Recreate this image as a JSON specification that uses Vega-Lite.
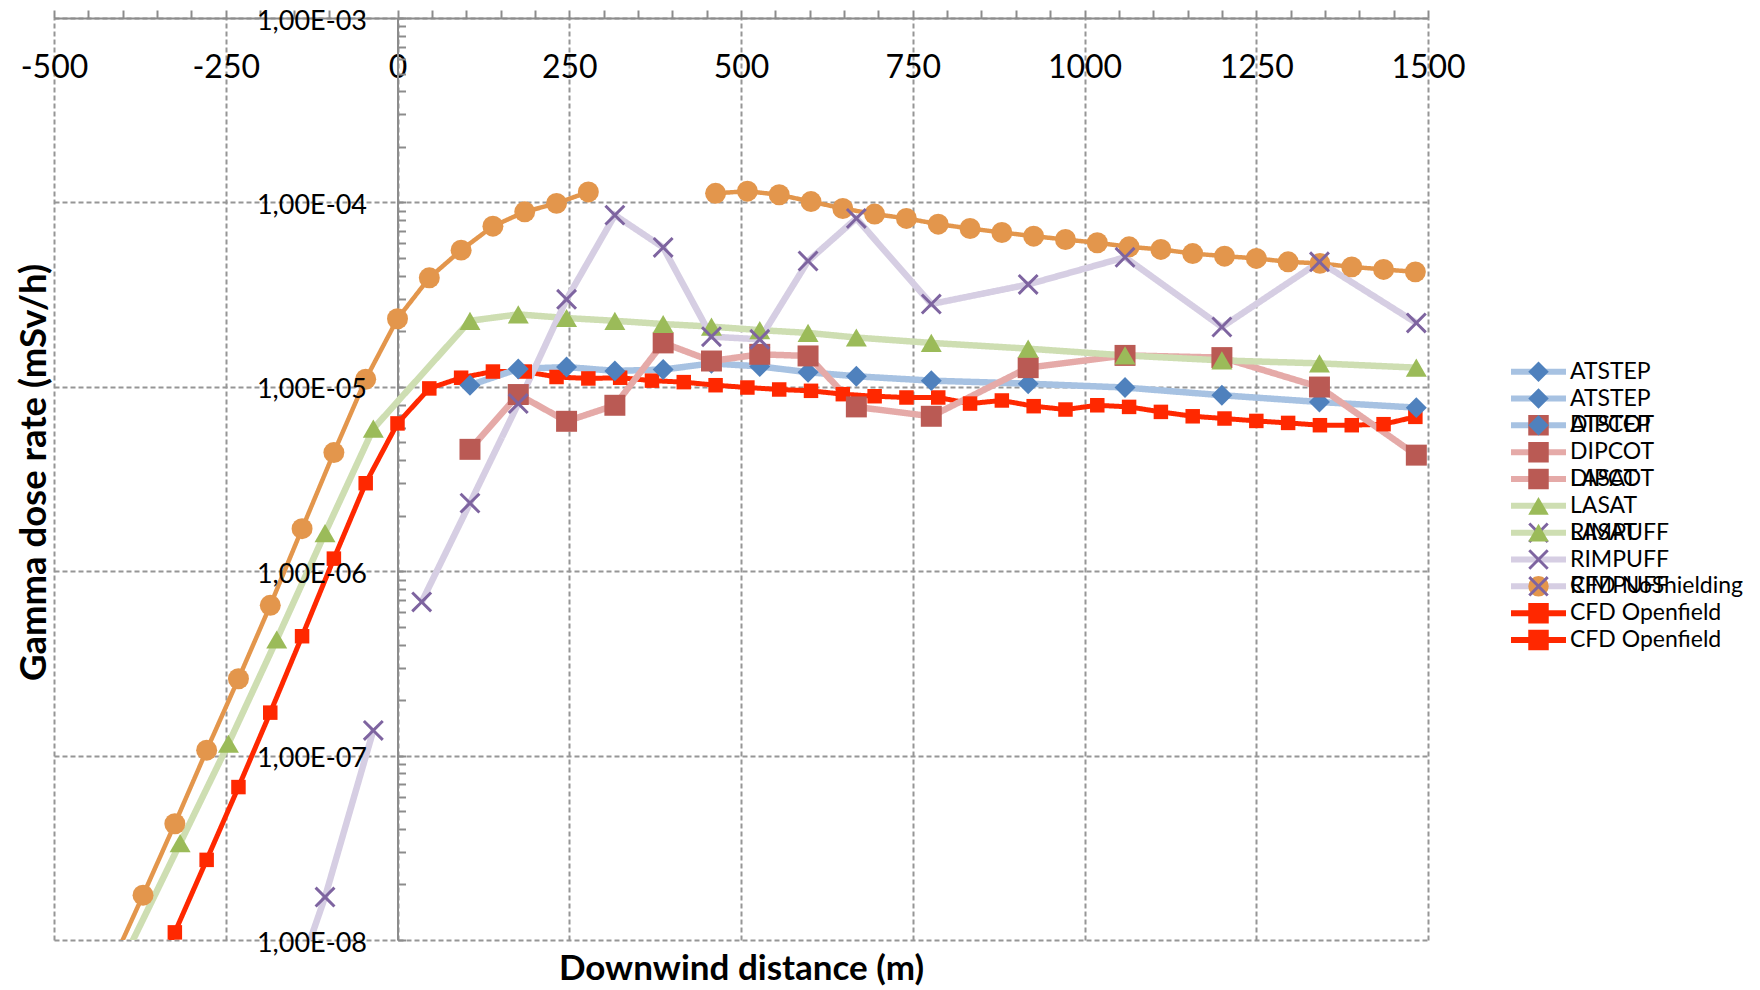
{
  "$schema": "https://vega.github.io/schema/vega-lite/v6.json",
  "width": 1374,
  "height": 922,
  "autosize": {"type": "none"},
  "padding": {"left": 54, "top": 18, "right": 332, "bottom": 50},
  "background": "white",
  "config": {"view": {"stroke": null}, "font": "Lato"},
  "resolve": {"axis": {"y": "independent"}},
  "data": {"values": [
    {"model": "CFD Openfield", "distance": -370.4, "dose": 4.5e-9},
    {"model": "CFD Openfield", "distance": -324.1, "dose": 1.10e-8},
    {"model": "CFD Openfield", "distance": -277.8, "dose": 2.72e-8},
    {"model": "CFD Openfield", "distance": -231.5, "dose": 6.75e-8},
    {"model": "CFD Openfield", "distance": -185.2, "dose": 1.71e-7},
    {"model": "CFD Openfield", "distance": -138.9, "dose": 4.44e-7},
    {"model": "CFD Openfield", "distance": -92.6, "dose": 1.17e-6},
    {"model": "CFD Openfield", "distance": -46.3, "dose": 3.00e-6},
    {"model": "CFD Openfield", "distance": 0, "dose": 6.33e-6},
    {"model": "CFD Openfield", "distance": 46.3, "dose": 9.80e-6},
    {"model": "CFD Openfield", "distance": 92.6, "dose": 1.12e-5},
    {"model": "CFD Openfield", "distance": 138.9, "dose": 1.21e-5},
    {"model": "CFD Openfield", "distance": 185.2, "dose": 1.21e-5},
    {"model": "CFD Openfield", "distance": 231.5, "dose": 1.13e-5},
    {"model": "CFD Openfield", "distance": 277.8, "dose": 1.11e-5},
    {"model": "CFD Openfield", "distance": 324.1, "dose": 1.12e-5},
    {"model": "CFD Openfield", "distance": 370.4, "dose": 1.08e-5},
    {"model": "CFD Openfield", "distance": 416.7, "dose": 1.06e-5},
    {"model": "CFD Openfield", "distance": 463, "dose": 1.02e-5},
    {"model": "CFD Openfield", "distance": 509.3, "dose": 9.91e-6},
    {"model": "CFD Openfield", "distance": 555.6, "dose": 9.67e-6},
    {"model": "CFD Openfield", "distance": 601.9, "dose": 9.51e-6},
    {"model": "CFD Openfield", "distance": 648.2, "dose": 9.12e-6},
    {"model": "CFD Openfield", "distance": 694.5, "dose": 8.89e-6},
    {"model": "CFD Openfield", "distance": 740.8, "dose": 8.75e-6},
    {"model": "CFD Openfield", "distance": 787.1, "dose": 8.75e-6},
    {"model": "CFD Openfield", "distance": 833.4, "dose": 8.11e-6},
    {"model": "CFD Openfield", "distance": 879.7, "dose": 8.43e-6},
    {"model": "CFD Openfield", "distance": 926, "dose": 7.85e-6},
    {"model": "CFD Openfield", "distance": 972.3, "dose": 7.53e-6},
    {"model": "CFD Openfield", "distance": 1018.6, "dose": 7.94e-6},
    {"model": "CFD Openfield", "distance": 1064.9, "dose": 7.78e-6},
    {"model": "CFD Openfield", "distance": 1111.2, "dose": 7.31e-6},
    {"model": "CFD Openfield", "distance": 1157.5, "dose": 6.92e-6},
    {"model": "CFD Openfield", "distance": 1203.8, "dose": 6.73e-6},
    {"model": "CFD Openfield", "distance": 1250.1, "dose": 6.53e-6},
    {"model": "CFD Openfield", "distance": 1296.4, "dose": 6.37e-6},
    {"model": "CFD Openfield", "distance": 1342.7, "dose": 6.19e-6},
    {"model": "CFD Openfield", "distance": 1389, "dose": 6.19e-6},
    {"model": "CFD Openfield", "distance": 1435.3, "dose": 6.27e-6},
    {"model": "CFD Openfield", "distance": 1481.6, "dose": 6.87e-6},

    {"model": "CFD NoShielding", "distance": -416.7, "dose": 7.3e-9},
    {"model": "CFD NoShielding", "distance": -370.4, "dose": 1.75e-8},
    {"model": "CFD NoShielding", "distance": -324.1, "dose": 4.27e-8},
    {"model": "CFD NoShielding", "distance": -277.8, "dose": 1.07e-7},
    {"model": "CFD NoShielding", "distance": -231.5, "dose": 2.61e-7},
    {"model": "CFD NoShielding", "distance": -185.2, "dose": 6.53e-7},
    {"model": "CFD NoShielding", "distance": -138.9, "dose": 1.70e-6},
    {"model": "CFD NoShielding", "distance": -92.6, "dose": 4.40e-6},
    {"model": "CFD NoShielding", "distance": -46.3, "dose": 1.10e-5},
    {"model": "CFD NoShielding", "distance": 0, "dose": 2.34e-5},
    {"model": "CFD NoShielding", "distance": 46.3, "dose": 3.90e-5},
    {"model": "CFD NoShielding", "distance": 92.6, "dose": 5.51e-5},
    {"model": "CFD NoShielding", "distance": 138.9, "dose": 7.43e-5},
    {"model": "CFD NoShielding", "distance": 185.2, "dose": 8.89e-5},
    {"model": "CFD NoShielding", "distance": 231.5, "dose": 9.88e-5},
    {"model": "CFD NoShielding", "distance": 277.8, "dose": 1.14e-4},
    {"model": "CFD NoShielding", "distance": 370.4, "dose": null},
    {"model": "CFD NoShielding", "distance": 463, "dose": 1.12e-4},
    {"model": "CFD NoShielding", "distance": 509.3, "dose": 1.15e-4},
    {"model": "CFD NoShielding", "distance": 555.6, "dose": 1.10e-4},
    {"model": "CFD NoShielding", "distance": 601.9, "dose": 1.01e-4},
    {"model": "CFD NoShielding", "distance": 648.2, "dose": 9.27e-5},
    {"model": "CFD NoShielding", "distance": 694.5, "dose": 8.64e-5},
    {"model": "CFD NoShielding", "distance": 740.8, "dose": 8.19e-5},
    {"model": "CFD NoShielding", "distance": 787.1, "dose": 7.62e-5},
    {"model": "CFD NoShielding", "distance": 833.4, "dose": 7.22e-5},
    {"model": "CFD NoShielding", "distance": 879.7, "dose": 6.87e-5},
    {"model": "CFD NoShielding", "distance": 926, "dose": 6.56e-5},
    {"model": "CFD NoShielding", "distance": 972.3, "dose": 6.29e-5},
    {"model": "CFD NoShielding", "distance": 1018.6, "dose": 6.04e-5},
    {"model": "CFD NoShielding", "distance": 1064.9, "dose": 5.74e-5},
    {"model": "CFD NoShielding", "distance": 1111.2, "dose": 5.56e-5},
    {"model": "CFD NoShielding", "distance": 1157.5, "dose": 5.28e-5},
    {"model": "CFD NoShielding", "distance": 1203.8, "dose": 5.11e-5},
    {"model": "CFD NoShielding", "distance": 1250.1, "dose": 4.97e-5},
    {"model": "CFD NoShielding", "distance": 1296.4, "dose": 4.76e-5},
    {"model": "CFD NoShielding", "distance": 1342.7, "dose": 4.67e-5},
    {"model": "CFD NoShielding", "distance": 1389, "dose": 4.47e-5},
    {"model": "CFD NoShielding", "distance": 1435.3, "dose": 4.33e-5},
    {"model": "CFD NoShielding", "distance": 1481.6, "dose": 4.20e-5},

    {"model": "ATSTEP", "distance": 105.5, "dose": 1.02e-5},
    {"model": "ATSTEP", "distance": 175.8, "dose": 1.25e-5},
    {"model": "ATSTEP", "distance": 246.1, "dose": 1.28e-5},
    {"model": "ATSTEP", "distance": 316.4, "dose": 1.22e-5},
    {"model": "ATSTEP", "distance": 386.7, "dose": 1.24e-5},
    {"model": "ATSTEP", "distance": 457, "dose": 1.34e-5},
    {"model": "ATSTEP", "distance": 527.3, "dose": 1.29e-5},
    {"model": "ATSTEP", "distance": 597.6, "dose": 1.20e-5},
    {"model": "ATSTEP", "distance": 667.9, "dose": 1.14e-5},
    {"model": "ATSTEP", "distance": 777, "dose": 1.08e-5},
    {"model": "ATSTEP", "distance": 918, "dose": 1.04e-5},
    {"model": "ATSTEP", "distance": 1059, "dose": 9.91e-6},
    {"model": "ATSTEP", "distance": 1200, "dose": 9.0e-6},
    {"model": "ATSTEP", "distance": 1342, "dose": 8.27e-6},
    {"model": "ATSTEP", "distance": 1483, "dose": 7.71e-6},

    {"model": "DIPCOT", "distance": 105.5, "dose": 4.58e-6},
    {"model": "DIPCOT", "distance": 175.8, "dose": 9.08e-6},
    {"model": "DIPCOT", "distance": 246.1, "dose": 6.50e-6},
    {"model": "DIPCOT", "distance": 316.4, "dose": 7.94e-6},
    {"model": "DIPCOT", "distance": 386.7, "dose": 1.73e-5},
    {"model": "DIPCOT", "distance": 457, "dose": 1.38e-5},
    {"model": "DIPCOT", "distance": 527.3, "dose": 1.50e-5},
    {"model": "DIPCOT", "distance": 597.6, "dose": 1.47e-5},
    {"model": "DIPCOT", "distance": 667.9, "dose": 7.78e-6},
    {"model": "DIPCOT", "distance": 777, "dose": 6.92e-6},
    {"model": "DIPCOT", "distance": 918, "dose": 1.27e-5},
    {"model": "DIPCOT", "distance": 1059, "dose": 1.48e-5},
    {"model": "DIPCOT", "distance": 1200, "dose": 1.44e-5},
    {"model": "DIPCOT", "distance": 1342, "dose": 9.97e-6},
    {"model": "DIPCOT", "distance": 1483, "dose": 4.26e-6},

    {"model": "LASAT", "distance": -386.7, "dose": 9.7e-9},
    {"model": "LASAT", "distance": -316.4, "dose": 3.35e-8},
    {"model": "LASAT", "distance": -246.1, "dose": 1.16e-7},
    {"model": "LASAT", "distance": -175.8, "dose": 4.26e-7},
    {"model": "LASAT", "distance": -105.5, "dose": 1.61e-6},
    {"model": "LASAT", "distance": -35.2, "dose": 5.93e-6},
    {"model": "LASAT", "distance": 105.5, "dose": 2.28e-5},
    {"model": "LASAT", "distance": 175.8, "dose": 2.47e-5},
    {"model": "LASAT", "distance": 246.1, "dose": 2.36e-5},
    {"model": "LASAT", "distance": 316.4, "dose": 2.28e-5},
    {"model": "LASAT", "distance": 386.7, "dose": 2.19e-5},
    {"model": "LASAT", "distance": 457, "dose": 2.12e-5},
    {"model": "LASAT", "distance": 527.3, "dose": 2.03e-5},
    {"model": "LASAT", "distance": 597.6, "dose": 1.96e-5},
    {"model": "LASAT", "distance": 667.9, "dose": 1.85e-5},
    {"model": "LASAT", "distance": 777, "dose": 1.73e-5},
    {"model": "LASAT", "distance": 918, "dose": 1.61e-5},
    {"model": "LASAT", "distance": 1059, "dose": 1.48e-5},
    {"model": "LASAT", "distance": 1200, "dose": 1.39e-5},
    {"model": "LASAT", "distance": 1342, "dose": 1.34e-5},
    {"model": "LASAT", "distance": 1483, "dose": 1.27e-5},

    {"model": "RIMPUFF", "distance": -175.8, "dose": 3.0e-9},
    {"model": "RIMPUFF", "distance": -105.5, "dose": 1.71e-8},
    {"model": "RIMPUFF", "distance": -35.2, "dose": 1.37e-7},
    {"model": "RIMPUFF", "distance": 0, "dose": null},
    {"model": "RIMPUFF", "distance": 35.2, "dose": 6.81e-7},
    {"model": "RIMPUFF", "distance": 105.5, "dose": 2.34e-6},
    {"model": "RIMPUFF", "distance": 175.8, "dose": 8.11e-6},
    {"model": "RIMPUFF", "distance": 246.1, "dose": 2.98e-5},
    {"model": "RIMPUFF", "distance": 316.4, "dose": 8.53e-5},
    {"model": "RIMPUFF", "distance": 386.7, "dose": 5.70e-5},
    {"model": "RIMPUFF", "distance": 457, "dose": 1.87e-5},
    {"model": "RIMPUFF", "distance": 527.3, "dose": 1.81e-5},
    {"model": "RIMPUFF", "distance": 597.6, "dose": 4.81e-5},
    {"model": "RIMPUFF", "distance": 667.9, "dose": 8.19e-5},
    {"model": "RIMPUFF", "distance": 777, "dose": 2.81e-5},
    {"model": "RIMPUFF", "distance": 918, "dose": 3.59e-5},
    {"model": "RIMPUFF", "distance": 1059, "dose": 5.04e-5},
    {"model": "RIMPUFF", "distance": 1200, "dose": 2.11e-5},
    {"model": "RIMPUFF", "distance": 1342, "dose": 4.76e-5},
    {"model": "RIMPUFF", "distance": 1483, "dose": 2.22e-5}
  ]},
  "layer": [
    {
      "mark": {"type": "line", "clip": true, "invalid": "break-paths-filter-domains"},
      "encoding": {
        "x": {
          "field": "distance", "type": "quantitative",
          "scale": {"domain": [-500, 1500], "nice": false, "zero": false},
          "axis": {
            "orient": "top",
            "tickCount": 200,
            "values": [-500,-450,-400,-350,-300,-250,-200,-150,-100,-50,0,50,100,150,200,250,300,350,400,450,500,550,600,650,700,750,800,850,900,950,1000,1050,1100,1150,1200,1250,1300,1350,1400,1450,1500],
            "labelExpr": "datum.value % 250 === 0 ? toString(datum.value) : ''",
            "labelFont": "Lato", "labelFontSize": 32, "labelColor": "#000000",
            "labelBaseline": "middle", "labelAlign": "center", "labelPadding": -57,
            "labelFlush": false, "labelOverlap": false,
            "tickSize": 8, "tickWidth": 2, "tickColor": "#8C8C8C",
            "domainColor": "#8C8C8C", "domainWidth": 2,
            "grid": true, "gridColor": "#969696", "gridWidth": 2, "gridDash": [5, 3],
            "gridOpacity": {"condition": {"test": "datum.value % 250 === 0", "value": 1}, "value": 0},
            "title": "Downwind distance (m)",
            "titleFont": "Lato", "titleFontWeight": "bold", "titleFontSize": 35, "titleColor": "#000000",
            "titleX": 687, "titleY": 950, "titleAlign": "center", "titleBaseline": "middle", "titleAngle": 0
          }
        },
        "y": {
          "field": "dose", "type": "quantitative",
          "scale": {"type": "log", "domain": [1e-8, 1e-3], "nice": false},
          "axis": {
            "orient": "left", "offset": -343.5,
            "tickCount": 200,
            "values": [1e-8,2e-8,3e-8,4e-8,5e-8,6e-8,7e-8,8e-8,9e-8,1e-7,2e-7,3e-7,4e-7,5e-7,6e-7,7e-7,8e-7,9e-7,1e-6,2e-6,3e-6,4e-6,5e-6,6e-6,7e-6,8e-6,9e-6,1e-5,2e-5,3e-5,4e-5,5e-5,6e-5,7e-5,8e-5,9e-5,1e-4,2e-4,3e-4,4e-4,5e-4,6e-4,7e-4,8e-4,9e-4,1e-3],
            "labels": false,
            "tickSize": -8, "tickWidth": 2, "tickColor": "#8C8C8C",
            "domainColor": "#8C8C8C", "domainWidth": 2,
            "grid": true, "gridColor": "#969696", "gridWidth": 2, "gridDash": [5, 3],
            "gridOpacity": {"condition": {"test": "abs(log(datum.value)/LN10 - round(log(datum.value)/LN10)) < 0.001", "value": 1}, "value": 0},
            "title": "Gamma dose rate (mSv/h)",
            "titleFont": "Lato", "titleFontWeight": "bold", "titleFontSize": 36.5, "titleColor": "#000000",
            "titleX": -363.5, "titleY": 454, "titleAlign": "center", "titleBaseline": "middle", "titleAngle": -90
          }
        },
        "stroke": {
          "field": "model", "type": "nominal",
          "scale": {
            "domain": ["ATSTEP","ATSTEP ","ATSTEP  ","DIPCOT","DIPCOT ","LASAT","LASAT ","RIMPUFF","RIMPUFF ","CFD Openfield","CFD Openfield ","CFD NoShielding"],
            "range": ["#A7C2E2","#A7C2E2","#A7C2E2","#E5AAA8","#E5AAA8","#CEDEB2","#CEDEB2","#D6CEE3","#D6CEE3","#FF2800","#FF2800","#E3964C"]
          },
          "legend": {
            "orient": "none", "legendX": 1454, "legendY": 341.7, "direction": "vertical",
            "values": ["ATSTEP","ATSTEP ","ATSTEP  ","DIPCOT","DIPCOT ","LASAT","LASAT ","RIMPUFF","RIMPUFF ","CFD Openfield","CFD Openfield "],
            "title": null, "padding": 0,
            "symbolType": "stroke", "symbolSize": 3025, "symbolStrokeWidth": 6,
            "labelFont": "Lato", "labelFontSize": 23, "labelColor": "#000000", "labelOffset": 1, "labelLimit": 400,
            "labelExpr": "trim(datum.label)",
            "clipHeight": 24, "rowPadding": 2.83, "zindex": 0
          }
        },
        "strokeDash": {
          "field": "model", "type": "nominal",
          "scale": {
            "domain": ["ATSTEP","DIPCOT","LASAT","RIMPUFF","CFD NoShielding","CFD Openfield","c01","c02","c03","c04","c05","c06","c07","c08","c09","c10","c11"],
            "range": [[1,0],[1,0],[1,0],[1,0],[1,0],[1,0],[1,0],[1,0],[1,0],[1,0],[1,0],[1,0],[1,0],[1,0],[1,0],[1,0],[1,0]]
          },
          "legend": {
            "orient": "none", "legendX": 1473, "legendY": 341.7, "direction": "vertical",
            "values": ["c01","c02","c03","c04","c05","c06","c07","c08","c09","c10","c11"],
            "title": null, "padding": 0,
            "symbolType": "circle", "symbolSize": 420, "symbolStrokeWidth": 0,
            "labelFont": "Lato", "labelFontSize": 23, "labelOffset": 20,
            "labelExpr": "''",
            "clipHeight": 24, "rowPadding": 2.83, "zindex": 1,
            "encode": {"symbols": {"update": {
              "shape": {"signal": "datum.index == 2 ? 'square' : datum.index == 6 ? 'M0,-0.2L0.8,-1L1,-0.8L0.2,0L1,0.8L0.8,1L0,0.2L-0.8,1L-1,0.8L-0.2,0L-1,-0.8L-0.8,-1Z' : 'circle'"},
              "fill": {"signal": "datum.index == 2 ? '#BA5A54' : datum.index == 6 ? '#7E64A0' : '#E3964C'"},
              "stroke": {"value": "transparent"},
              "strokeWidth": {"value": 0},
              "opacity": {"signal": "(datum.index == 2 || datum.index == 6 || datum.index == 8) ? 1 : 0"}
            }}}
          }
        },
        "strokeWidth": {
          "condition": [
            {"test": "datum.model === 'CFD Openfield'", "value": 5},
            {"test": "datum.model === 'CFD NoShielding'", "value": 4.5}
          ],
          "value": 6.5
        }
      }
    },
    {
      "transform": [{"filter": "datum.dose != null && datum.dose >= 1e-8"}],
      "mark": {"type": "point", "filled": true, "opacity": 1, "strokeWidth": 0},
      "encoding": {
        "x": {"field": "distance", "type": "quantitative"},
        "y": {
          "field": "dose", "type": "quantitative",
          "axis": {
            "orient": "left", "offset": -343.5, "zindex": 2,
            "tickCount": 200,
            "values": [1e-8,1e-7,1e-6,1e-5,1e-4,1e-3],
            "labelExpr": "'1,00E-0' + toString(-round(log(datum.value)/LN10))",
            "labelFont": "Lato", "labelFontSize": 27, "labelColor": "#000000",
            "labelAlign": "right", "labelBaseline": "middle", "labelPadding": 39, "labelOffset": 3,
            "labelFlush": false, "labelOverlap": false,
            "ticks": true, "tickSize": -8, "tickOpacity": 0,
            "domain": false, "grid": false, "title": null
          }
        },
        "shape": {
          "field": "model", "type": "nominal",
          "scale": {
            "domain": ["ATSTEP","b2","b3","DIPCOT","b5","LASAT","b7","RIMPUFF","b9","CFD Openfield","b11","CFD NoShielding"],
            "range": ["diamond","diamond","diamond","square","square","triangle-up","triangle-up","M0,-0.2L0.8,-1L1,-0.8L0.2,0L1,0.8L0.8,1L0,0.2L-0.8,1L-1,0.8L-0.2,0L-1,-0.8L-0.8,-1Z","M0,-0.2L0.8,-1L1,-0.8L0.2,0L1,0.8L0.8,1L0,0.2L-0.8,1L-1,0.8L-0.2,0L-1,-0.8L-0.8,-1Z","square","square","circle"]
          },
          "legend": {
            "orient": "none", "legendX": 1473, "legendY": 341.7, "direction": "vertical",
            "values": ["ATSTEP","b2","b3","DIPCOT","b5","LASAT","b7","RIMPUFF","b9","CFD Openfield","b11"],
            "title": null, "padding": 0,
            "symbolSize": 420, "symbolStrokeWidth": 0, "symbolOpacity": 1,
            "labelFont": "Lato", "labelFontSize": 23, "labelColor": "#000000", "labelOffset": 20, "labelLimit": 400,
            "labelExpr": "['','','DIPCOT','','LASAT','','RIMPUFF','','CFD NoShielding','',''][datum.index]",
            "clipHeight": 24, "rowPadding": 2.83, "zindex": 2
          }
        },
        "fill": {
          "field": "model", "type": "nominal",
          "scale": {
            "domain": ["ATSTEP","b2","b3","DIPCOT","b5","LASAT","b7","RIMPUFF","b9","CFD Openfield","b11","CFD NoShielding"],
            "range": ["#4F81BD","#4F81BD","#4F81BD","#BA5A54","#BA5A54","#9BBB59","#9BBB59","#7E64A0","#7E64A0","#FF2800","#FF2800","#E3964C"]
          },
          "legend": {
            "orient": "none", "legendX": 1473, "legendY": 341.7, "direction": "vertical",
            "values": ["ATSTEP","b2","b3","DIPCOT","b5","LASAT","b7","RIMPUFF","b9","CFD Openfield","b11"],
            "title": null, "padding": 0,
            "symbolSize": 420, "symbolStrokeWidth": 0, "symbolOpacity": 1,
            "labelFont": "Lato", "labelFontSize": 23, "labelColor": "#000000", "labelOffset": 20, "labelLimit": 400,
            "labelExpr": "['','','DIPCOT','','LASAT','','RIMPUFF','','CFD NoShielding','',''][datum.index]",
            "clipHeight": 24, "rowPadding": 2.83, "zindex": 2
          }
        },
        "size": {
          "condition": [{"test": "datum.model === 'CFD Openfield'", "value": 210}],
          "value": 440
        }
      }
    }
  ]
}
